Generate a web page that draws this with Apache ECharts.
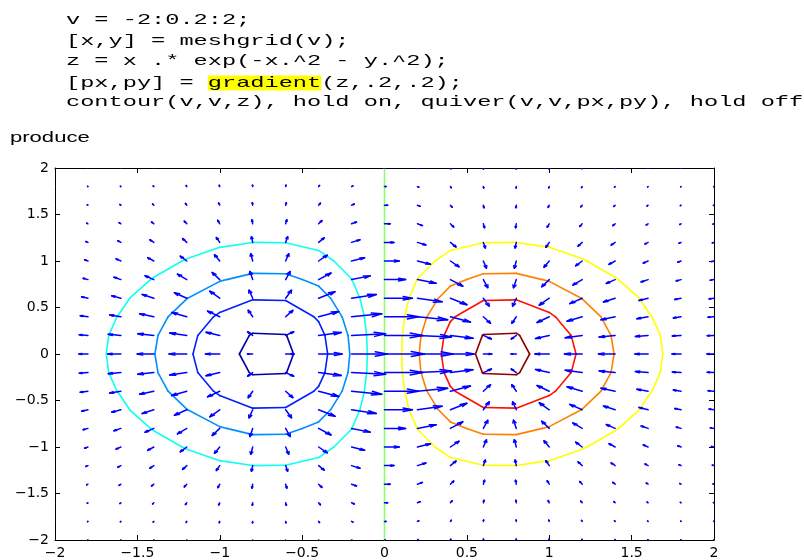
<!DOCTYPE html>
<html><head><meta charset="utf-8">
<script src="https://cdn.jsdelivr.net/npm/echarts@6/dist/echarts.min.js"></script>
<style>html,body{margin:0;padding:0;background:#fff}#c{width:804px;height:560px}</style>
</head><body><div id="c"></div>
<script>
// ---------------- data ----------------
// grid v = -2:0.2:2
const gridV = [-2,-1.8,-1.6,-1.4,-1.2,-1,-0.8,-0.6,-0.4,-0.2,0,0.2,0.4,0.6,0.8,1,1.2,1.4,1.6,1.8,2];
// z on the grid = zAlongX[i] * zAlongY[j]
const zAlongX = [-0.03663,-0.07050,-0.12369,-0.19720,-0.28431,-0.36788,-0.42183,-0.41861,-0.34086,-0.19216,0,
                 0.19216,0.34086,0.41861,0.42183,0.36788,0.28431,0.19720,0.12369,0.07050,0.03663];
const zAlongY = [0.01832,0.03916,0.07730,0.14086,0.23693,0.36788,0.52729,0.69768,0.85214,0.96079,1,
                 0.96079,0.85214,0.69768,0.52729,0.36788,0.23693,0.14086,0.07730,0.03916,0.01832];
const contourLevels = [-0.4,-0.3,-0.2,-0.1,0,0.1,0.2,0.3,0.4];
const xTicks = [-2,-1.5,-1,-0.5,0,0.5,1,1.5,2];
const yTicks = [-2,-1.5,-1,-0.5,0,0.5,1,1.5,2];
const codeLines = [
  'v = -2:0.2:2;',
  '[x,y] = meshgrid(v);',
  'z = x .* exp(-x.^2 - y.^2);',
  '[px,py] = {hl|gradient}(z,.2,.2);',
  'contour(v,v,z), hold on, quiver(v,v,px,py), hold off'
];
const captionText = 'produce';

// ---------------- styles ----------------
const levelColors = ['#0000a0','#0020ff','#008fff','#10ffef','#8fff70','#ffff00','#ff8000','#ff1000','#8f0000'];
const arrowColor = '#0000ff';

// ---------------- derived tables ----------------
const n = gridV.length;
const z = zAlongY.map(fy => zAlongX.map(fx => fx * fy)); // z[j][i]
const hx = gridV[1] - gridV[0];
function gradAt(j, i) {
  let gx, gy;
  if (i === 0) gx = (z[j][1] - z[j][0]) / hx;
  else if (i === n - 1) gx = (z[j][n-1] - z[j][n-2]) / hx;
  else gx = (z[j][i+1] - z[j][i-1]) / (2 * hx);
  if (j === 0) gy = (z[1][i] - z[0][i]) / hx;
  else if (j === n - 1) gy = (z[n-1][i] - z[n-2][i]) / hx;
  else gy = (z[j+1][i] - z[j-1][i]) / (2 * hx);
  return [gx, gy];
}
const rawArrows = [];
for (let j = 0; j < n; j++) for (let i = 0; i < n; i++) {
  const g = gradAt(j, i);
  rawArrows.push([gridV[i], gridV[j], g[0], g[1]]);
}
// quiver autoscale
const del = (gridV[n-1] - gridV[0]) / n;
let maxLen = 0;
rawArrows.forEach(a => { maxLen = Math.max(maxLen, Math.sqrt((a[2]*a[2] + a[3]*a[3]) / (2*del*del))); });
const sc = 0.9 / maxLen;
const arrowData = rawArrows.map(a => [a[0], a[1], a[2]*sc, a[3]*sc]);

// contour segments by marching squares
const segData = [];
contourLevels.forEach((lev, k) => {
  for (let j = 0; j < n - 1; j++) for (let i = 0; i < n - 1; i++) {
    const za = z[j][i], zb = z[j][i+1], zc = z[j+1][i+1], zd = z[j+1][i];
    const xa = gridV[i], xb = gridV[i+1], ya = gridV[j], yd = gridV[j+1];
    const A = za > lev, B = zb > lev, C = zc > lev, D = zd > lev;
    const pts = {};
    if (A !== B) pts.bottom = [xa + (lev - za) / (zb - za) * (xb - xa), ya];
    if (B !== C) pts.right = [xb, ya + (lev - zb) / (zc - zb) * (yd - ya)];
    if (D !== C) pts.top = [xa + (lev - zd) / (zc - zd) * (xb - xa), yd];
    if (A !== D) pts.left = [xa, ya + (lev - za) / (zd - za) * (yd - ya)];
    const keys = Object.keys(pts);
    const add = (p, q) => segData.push([p[0], p[1], q[0], q[1], k]);
    if (keys.length === 2) add(pts[keys[0]], pts[keys[1]]);
    else if (keys.length === 4) {
      const center = (za + zb + zc + zd) / 4 > lev;
      if (center === A) { add(pts.bottom, pts.right); add(pts.top, pts.left); }
      else { add(pts.left, pts.bottom); add(pts.right, pts.top); }
    }
  }
});

// ---------------- chart ----------------
const chart = echarts.init(document.getElementById('c'), null, {renderer: 'canvas'});
const fmt = v => String(v).replace('-', '\u2212');
const axisLineStyle = {color: '#000', width: 1};
function xAx(pos, labels) {
  return {
    type: 'value', position: pos, min: xTicks[0], max: xTicks[xTicks.length-1], interval: xTicks[1]-xTicks[0],
    axisLine: {show: true, onZero: false, lineStyle: axisLineStyle},
    axisTick: {show: true, inside: true, length: 5, lineStyle: axisLineStyle},
    axisLabel: {show: labels, formatter: fmt, color: '#000', fontFamily: 'DejaVu Sans', fontSize: 14, margin: 6},
    splitLine: {show: false}
  };
}
function yAx(pos, labels) {
  return {
    type: 'value', position: pos, min: yTicks[0], max: yTicks[yTicks.length-1], interval: yTicks[1]-yTicks[0],
    axisLine: {show: true, onZero: false, lineStyle: axisLineStyle},
    axisTick: {show: true, inside: true, length: 5, lineStyle: axisLineStyle},
    axisLabel: {show: labels, formatter: fmt, color: '#000', fontFamily: 'DejaVu Sans', fontSize: 14, margin: 6},
    splitLine: {show: false}
  };
}
const codeGraphics = codeLines.map((t, idx) => ({
  type: 'text', x: 66, y: [20.5, 41, 61.5, 83, 102][idx], scaleX: 1.575, scaleY: 1,
  style: {
    text: t, font: '15px "Liberation Mono"', fill: '#000', verticalAlign: 'middle', lineHeight: 13,
    rich: {hl: {backgroundColor: '#ffff00', font: '15px "Liberation Mono"', fill: '#000', lineHeight: 13}}
  }
}));
const option = {
  animation: false,
  backgroundColor: '#fff',
  grid: {left: 55, right: 90, top: 168, bottom: 19, containLabel: false},
  xAxis: [xAx('bottom', true), xAx('top', false)],
  yAxis: [yAx('left', true), yAx('right', false)],
  graphic: codeGraphics.concat([{
    type: 'text', x: 10, y: 138, scaleX: 1.47,
    style: {text: captionText, font: '15px "Liberation Sans"', fill: '#000', verticalAlign: 'middle'}
  }]),
  series: [{
    type: 'custom', name: 'contour', coordinateSystem: 'cartesian2d', xAxisIndex: 0, yAxisIndex: 0,
    clip: true, silent: true,
    dimensions: ['x1','y1','x2','y2','lev'], encode: {x: [0, 2], y: [1, 3]},
    data: segData,
    renderItem: (params, api) => {
      const p = api.coord([api.value(0), api.value(1)]);
      const q = api.coord([api.value(2), api.value(3)]);
      return {type: 'line', shape: {x1: p[0], y1: p[1], x2: q[0], y2: q[1]},
        style: {stroke: levelColors[api.value(4)], lineWidth: 1.6, lineCap: 'round'}};
    }
  }, {
    type: 'custom', name: 'quiver', coordinateSystem: 'cartesian2d', xAxisIndex: 0, yAxisIndex: 0,
    clip: true, silent: true,
    dimensions: ['x','y','u','v'], encode: {x: 0, y: 1},
    data: arrowData,
    renderItem: (params, api) => {
      const x = api.value(0), y = api.value(1), u = api.value(2), v = api.value(3);
      const al = 0.33, be = 0.33;
      const p0 = api.coord([x, y]), p1 = api.coord([x + u, y + v]);
      const h1 = api.coord([x + u - al * (u + be * v), y + v - al * (v - be * u)]);
      const h2 = api.coord([x + u - al * (u - be * v), y + v - al * (v + be * u)]);
      const st = {stroke: arrowColor, lineWidth: 1.5, fill: null, lineCap: 'round', lineJoin: 'round'};
      return {type: 'group', children: [
        {type: 'polyline', shape: {points: [p0, p1]}, style: st},
        {type: 'polyline', shape: {points: [h1, p1, h2]}, style: st}
      ]};
    }
  }]
};
chart.setOption(option);
</script></body></html>
